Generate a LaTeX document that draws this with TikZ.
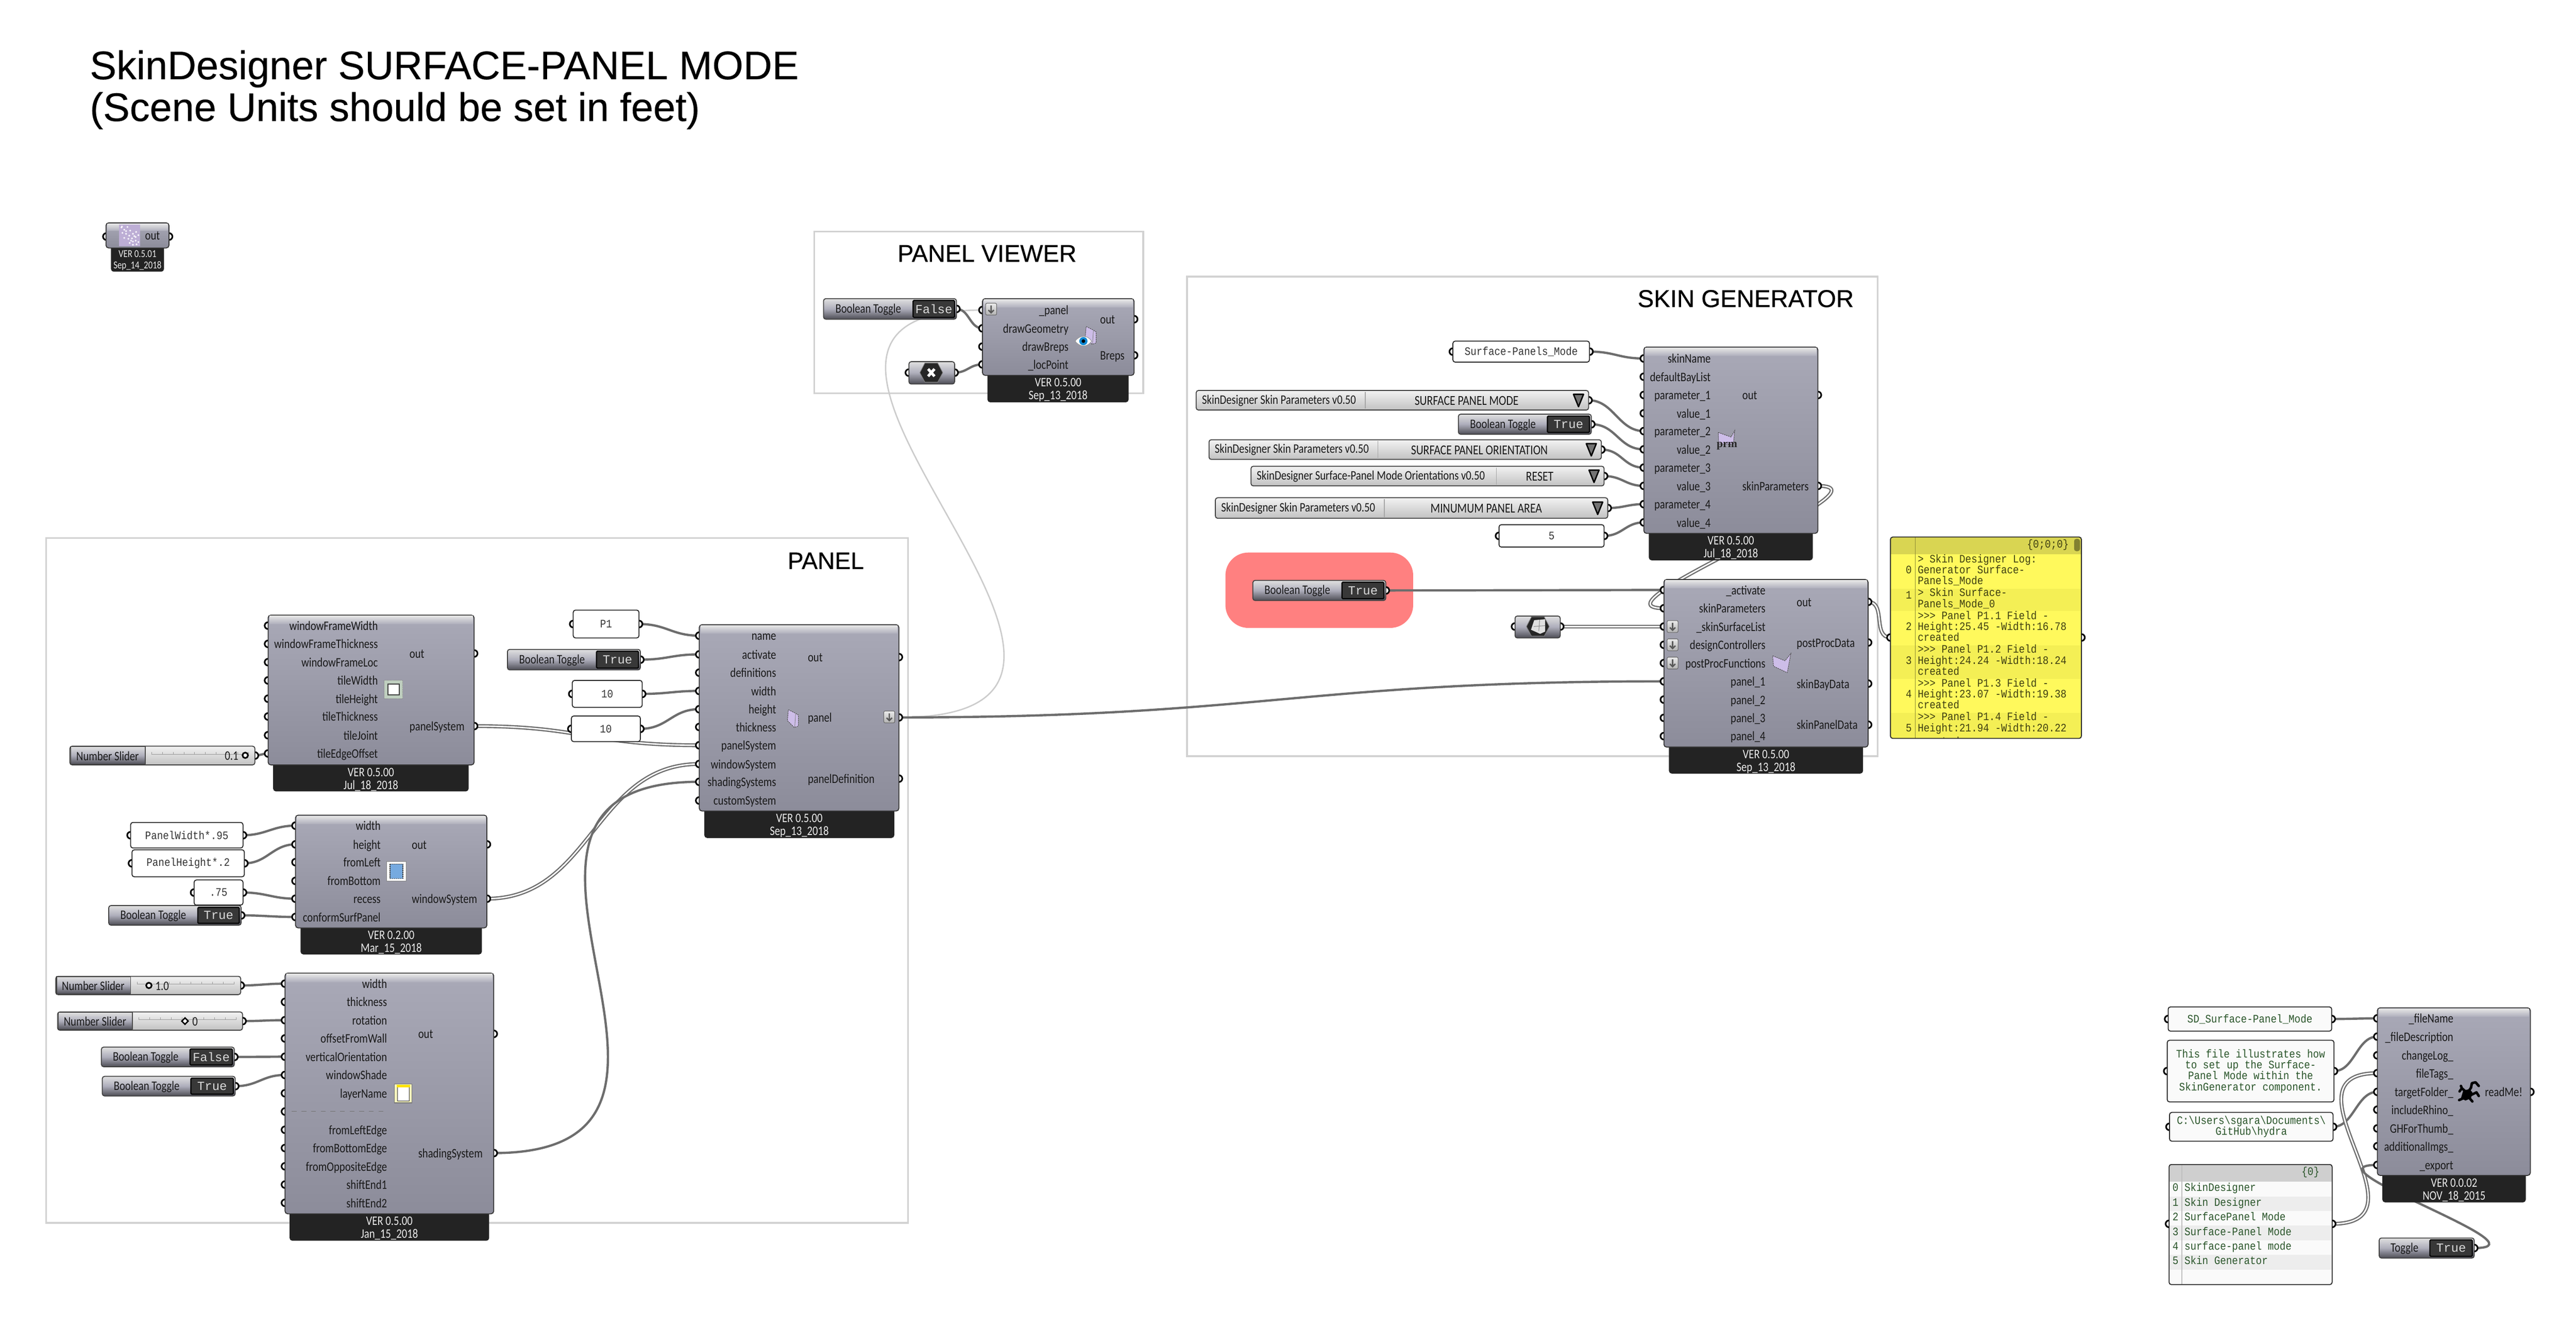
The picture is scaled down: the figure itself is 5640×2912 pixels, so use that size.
\documentclass[tikz,border=0pt]{standalone}
\usepackage{fontspec}
\setmainfont{Carlito}
\newfontfamily\ghlabfam{Carlito}[FakeStretch=0.82]
\newfontfamily\ghmonofam{Liberation Mono}[FakeStretch=0.87]
\newfontfamily\ghvalfam{Liberation Mono}
\newfontfamily\ttlfam{Liberation Sans}[FakeBold=0.3]
\newfontfamily\grpfam{Liberation Sans}[FakeBold=0.6]
\newfontfamily\serfam{Liberation Serif}
\newcommand\flab{\ghlabfam\fontsize{8.1pt}{9pt}\selectfont}
\newcommand\flabv{\ghlabfam\fontsize{8.5pt}{9pt}\selectfont}
\newcommand\fver{\ghlabfam\fontsize{8.1pt}{7.97pt}\selectfont}
\newcommand\fmono{\ghmonofam\fontsize{7.1pt}{6.85pt}\selectfont}
\newcommand\fval{\ghvalfam\fontsize{7.7pt}{8pt}\selectfont}
\definecolor{bodytop}{HTML}{A9A9B7}
\definecolor{bodybot}{HTML}{8C8C9A}
\definecolor{wiregray}{HTML}{6D6D6D}
\definecolor{framegray}{HTML}{D2D2D2}
\definecolor{footdark}{HTML}{232323}
\definecolor{monotext}{HTML}{333333}
\definecolor{greentext}{HTML}{2A552A}
\definecolor{yellowtext}{HTML}{3F3F12}
\definecolor{yellowA}{HTML}{FFF95C}
\definecolor{yellowB}{HTML}{F4EF55}
\definecolor{yellowH}{HTML}{D9D552}
\definecolor{panelpurple}{HTML}{CDBDE8}
\definecolor{groupred}{HTML}{FF8080}
\pgfdeclarelayer{frames}\pgfdeclarelayer{wires}\pgfdeclarelayer{ports}
\pgfsetlayers{frames,wires,ports,main}
\tikzset{
 ghport/.style={circle,draw=black,fill=white,line width=0.035cm,minimum size=0.15cm,inner sep=0pt,outer sep=0pt},
 ghbody/.style={draw=black!80,line width=0.02cm,rounded corners=0.06cm,top color=bodytop,bottom color=bodybot},
 ghfoot/.style={fill=footdark,rounded corners=0.06cm},
 ghver/.style={font=\fver,text=white!92!black,align=center,inner sep=0pt},
 ghlabel/.style={font=\flab,text=black!90,inner sep=0pt},
 smallbody/.style={draw=black!75,line width=0.02cm,rounded corners=0.05cm,top color=white!88!black,bottom color=black!45!bodybot,middle color=bodytop!95!white},
 togval/.style={draw=black,line width=0.025cm,fill=black!78,rounded corners=0.02cm,font=\fval,text=white!85!black},
 txtbody/.style={draw=black!85,line width=0.02cm,fill=white,rounded corners=0.05cm,font=\fmono,text=monotext,align=center},
 txtgreen/.style={draw=black!85,line width=0.02cm,fill=white!98!black,rounded corners=0.05cm,font=\fmono,text=greentext,align=center},
 listbody/.style={draw=black!75,line width=0.02cm,rounded corners=0.05cm,top color=white!95!black,bottom color=white!76!black},
 framebox/.style={draw=framegray,line width=0.04cm,fill=white},
 ttlnode/.style={inner sep=0pt,anchor=base west},
 wirea/.style={draw=wiregray,line width=0.05cm,line cap=round},
 wireb/.style={draw=wiregray,line width=0.027cm,double=white,double distance=0.03cm},
 wirec/.style={draw=white!80!black,line width=0.03cm},
 monoline/.style={font=\fmono,inner sep=0pt,anchor=base west},
 iconedge/.style={draw=black!70,line width=0.012cm,dash pattern=on 0.03cm off 0.015cm},
}
\newcommand\Rnode[7]{%
 \pgfmathsetmacro\rcx{(#3+#5)/2}\pgfmathsetmacro\rcy{(#4+#6)/2}%
 \pgfmathsetmacro\rw{(#5-(#3))*0.01}\pgfmathsetmacro\rh{(#6-(#4))*0.01}%
 \node[inner sep=0pt,outer sep=0pt,minimum width=\rw cm,minimum height=\rh cm,#1] (#2) at (\rcx,\rcy) {#7};}
\newcommand\ghport[3]{\begin{pgfonlayer}{ports}\node[ghport] (#1) at (#2,#3) {};\end{pgfonlayer}}
\newcommand\ghbodybox[9]{%
 \Rnode{ghfoot}{#1-foot}{#6}{#5-12}{#7}{#8}{}%
 \Rnode{ghbody}{#1}{#2}{#3}{#4}{#5}{}%
 \shade[top color=white!90!black,bottom color=bodytop!92!white] ({#2+3},{#3+2}) rectangle ({#4-3},{#3+19});
 \pgfmathsetmacro\fcx{(#6+#7)/2}\pgfmathsetmacro\fcy{#5+32}%
 \node[ghver] (#1-ver) at (\fcx,\fcy) {#9};}
\newcommand\ghin[4]{\foreach \yy/\lab [count=\n] in {#4}{%
  \ghport{#1-i\n}{#2}{\yy}%
  \node[ghlabel,anchor=base east] (#1-il\n) at (#3,\yy+10) {\lab};}}
\newcommand\ghout[4]{\foreach \yy/\lab [count=\n] in {#4}{%
  \ghport{#1-o\n}{#2}{\yy}%
  \node[ghlabel,anchor=base west] (#1-ol\n) at (#3,\yy+10) {\lab};}}
\newcommand\toggle[8]{% name x1 y1 x2 y2 sep label value
 \Rnode{smallbody}{#1}{#2}{#3}{#4}{#5}{}%
 \pgfmathsetmacro\tcy{(#3+#5)/2}\pgfmathsetmacro\tlx{(#2+#6)/2}%
 \ghport{#1-o}{#4}{\tcy}%
 \node[ghlabel] (#1-lab) at (\tlx,\tcy+1) {#7};
 \Rnode{togval}{#1-val}{#6}{#3+4}{#4-4}{#5-4}{#8}}
\newcommand\slider[8]{% name x1 y1 x2 y2 sep value valuecx
 \Rnode{listbody}{#1}{#2}{#3}{#4}{#5}{}%
 \pgfmathsetmacro\tcy{(#3+#5)/2}\pgfmathsetmacro\tlx{(#2+#6)/2}%
 \draw[black!40,line width=0.01cm] ({#6+14},\tcy-3) -- ({#4-14},\tcy-3);
 \foreach \tk in {0,...,9}{\draw[black!40,line width=0.01cm] ({#6+14+\tk*(#4-(#6)-28)/9},\tcy-8) -- ++(0,5);}
 \Rnode{smallbody,sharp corners}{#1-left}{#2+2}{#3+1}{#6}{#5-1}{}%
 \draw[black!70,line width=0.015cm] (#6,#3) -- (#6,#5);
 \ghport{#1-o}{#4}{\tcy}%
 \node[ghlabel] (#1-lab) at (\tlx,\tcy+1) {Number Slider};
 \node[ghlabel] (#1-val) at (#8,\tcy+1) {#7};}
\newcommand\vlist[9]{% name x1 y1 x2 y2 sep left right rightcx
 \Rnode{listbody}{#1}{#2}{#3}{#4}{#5}{}%
 \pgfmathsetmacro\tcy{(#3+#5)/2}%
 \ghport{#1-o}{#4}{\tcy}%
 \draw[black!35,line width=0.015cm] (#6,#3+3) -- (#6,#5-3);
 \node[ghlabel,anchor=base west] (#1-lab) at ({#2+12},\tcy+8) {#7};
 \node[ghlabel,font=\flabv] (#1-val) at (#9,\tcy+1) {#8};
 \filldraw[fill=black!55,draw=black,line width=0.03cm,line join=round] ({#4-33},\tcy-13) -- ({#4-11},\tcy-13) -- ({#4-22},\tcy+14) -- cycle;}
\newcommand\txtbox[7]{% style name x1 y1 x2 y2 text
 \Rnode{#1}{#2}{#3}{#4}{#5}{#6}{#7}%
 \pgfmathsetmacro\tcy{(#4+#6)/2}%
 \ghport{#2-i}{#3}{\tcy}\ghport{#2-o}{#5}{\tcy}}
\newcommand\ghbtn[2]{%
 \filldraw[draw=black!60,line width=0.012cm,top color=white!92!black,bottom color=white!70!black,rounded corners=0.03cm] ({#1-12},{#2-13}) rectangle ({#1+12},{#2+13});
 \draw[black!65,line width=0.03cm] (#1,{#2-8}) -- (#1,{#2+8}) ({#1-6},{#2+2}) -- (#1,{#2+8}) -- ({#1+6},{#2+2});}
\newcommand\wire[3]{\draw[wirea] (#1.center) .. controls +(#3,0) and +(-#3,0) .. (#2.center);}
\newcommand\dwire[3]{\draw[wireb] (#1.center) .. controls +(#3,0) and +(-#3,0) .. (#2.center);}
\newcommand\hexpath[2]{({#1-25},#2) -- ({#1-14},{#2-21}) -- ({#1+14},{#2-21}) -- ({#1+25},#2) -- ({#1+14},{#2+21}) -- ({#1-14},{#2+21}) -- cycle}
\newcommand\bookicon[2]{% top-left corner of a 24x39 book
 \filldraw[fill=panelpurple,iconedge] ({#1+2},#2) -- ({#1+18},{#2+8}) -- ({#1+24},{#2+12}) -- ({#1+24},{#2+36}) -- ({#1+15},{#2+39}) -- (#1,{#2+24}) -- cycle;
 \draw[black!50,line width=0.01cm] ({#1+18},{#2+8}) -- ({#1+16},{#2+38});}
\begin{document}
\begin{tikzpicture}[x=0.01cm,y=-0.01cm]
\useasboundingbox (0,0) rectangle (5640,2912);
% ---------- frames
\begin{pgfonlayer}{frames}
\fill[white] (0,0) rectangle (5640,2912);
\Rnode{framebox}{frPanel}{101}{1178}{1988}{2678}{}
\Rnode{framebox}{frViewer}{1783}{507}{2503}{861}{}
\Rnode{framebox}{frSkin}{2599}{606}{4111}{1656}{}
\Rnode{fill=groupred,rounded corners=0.5cm}{grpRed}{2683}{1210}{3094}{1375}{}
\end{pgfonlayer}
% ---------- titles
\node[ttlnode,font=\ttlfam\fontsize{24.85pt}{26pt}\selectfont] (titleA) at (196,173.5) {SkinDesigner SURFACE-PANEL MODE};
\node[ttlnode,font=\ttlfam\fontsize{24.85pt}{26pt}\selectfont] (titleB) at (196,265) {(Scene Units should be set in feet)};
\node[font=\grpfam\fontsize{14.8pt}{16pt}\selectfont,inner sep=0pt] (tPanel) at (1808,1228) {PANEL};
\node[font=\grpfam\fontsize{15pt}{16pt}\selectfont,inner sep=0pt] (tViewer) at (2161,555) {PANEL VIEWER};
\node[font=\grpfam\fontsize{15.2pt}{16pt}\selectfont,inner sep=0pt] (tSkin) at (3822,654) {SKIN GENERATOR};
% ---------- top-left small component
\ghport{tl-i}{233}{518}\ghport{tl-o}{370}{518}
\Rnode{ghfoot}{tl-foot}{243}{534}{359}{595}{}
\Rnode{ghbody}{tl}{232}{488}{370}{543}{}
\shade[top color=white!90!black,bottom color=bodytop!92!white] (235,490) rectangle (367,505);
\fill[panelpurple!92!black] (261,492) rectangle (307,539);
\foreach \dx/\dy in {266/498,272/503,279/497,285/505,268/510,276/512,283/516,291/512,298/508,272/521,281/523,289/522,297/519,303/515,284/532,291/529,297/527,303/530,291/536,299/535,267/496,276/506,287/527,294/517}{\fill[white!90!panelpurple] (\dx,\dy) circle (2.2);}
\node[ghlabel,anchor=base west] (tl-ol) at (317,525) {out};
\node[font=\ghlabfam\fontsize{6.6pt}{7.1pt}\selectfont,text=white!92!black,align=center,inner sep=0pt] (tl-ver) at (301,570) {VER 0.5.01\\Sep\_14\_2018};
% ---------- component A
\ghbodybox{A}{587}{1347}{1038}{1675}{598}{1026}{1733}{VER 0.5.00\\Jul\_18\_2018}
\ghin{A}{587}{828}{1370/windowFrameWidth,1410/windowFrameThickness,1450/windowFrameLoc,1490/tileWidth,1530/tileHeight,1569/tileThickness,1610/tileJoint,1650/tileEdgeOffset}
\ghout{A}{1038}{896}{1431/out,1590/panelSystem}
\filldraw[fill=green!25!black!25,draw=black!45,line width=0.012cm,dash pattern=on 0.02cm off 0.012cm] (841,1490) rectangle (882,1530);
\filldraw[fill=white,draw=black!75,line width=0.02cm] (849,1498) rectangle (874,1522);
\slider{slA}{153}{1634}{558}{1675}{318}{0.1}{507}
\filldraw[fill=white,draw=black,line width=0.035cm] (537,1654) circle (6);
% ---------- component B
\ghbodybox{B}{647}{1785}{1066}{2032}{658}{1055}{2090}{VER 0.2.00\\Mar\_15\_2018}
\ghin{B}{647}{834}{1808/width,1849/height,1888/fromLeft,1929/fromBottom,1968/recess,2008/conformSurfPanel}
\ghout{B}{1066}{901}{1849/out,1968/windowSystem}
\filldraw[fill=white,draw=black!50,line width=0.012cm] (847,1887) rectangle (889,1929);
\filldraw[fill=cyan!60!blue!55,draw=black!75,line width=0.015cm,dash pattern=on 0.03cm off 0.015cm] (854,1892) rectangle (882,1924);
\txtbox{txtbody}{tWidth}{286}{1801}{532}{1857}{PanelWidth*.95}
\txtbox{txtbody}{tHeight}{289}{1861}{535}{1920}{PanelHeight*.2}
\txtbox{txtbody}{tRecess}{425}{1927}{532}{1982}{.75}
\toggle{tgB}{238}{1983}{528}{2026}{433}{Boolean Toggle}{True}
% ---------- component C
\ghbodybox{C}{624}{2131}{1081}{2658}{634}{1071}{2717}{VER 0.5.00\\Jan\_15\_2018}
\ghin{C}{624}{848}{2154/width,2194/thickness,2234/rotation,2274/offsetFromWall,2314/verticalOrientation,2354/windowShade,2394/layerName,2434/{},2474/fromLeftEdge,2514/fromBottomEdge,2554/fromOppositeEdge,2594/shiftEnd1,2634/shiftEnd2}
\ghout{C}{1081}{915}{2264/out,2525/shadingSystem}
\draw[black!55,line width=0.01cm,dashed] (639,2434) -- (847,2434);
\filldraw[fill=yellow!25,draw=black!55,line width=0.012cm] (863,2374) rectangle (902,2415);
\filldraw[fill=white,draw=black!80,line width=0.015cm] (870,2380) rectangle (896,2411);
\fill[yellow!85!orange] (868,2376) rectangle (898,2381);
\slider{slC}{122}{2138}{527}{2178}{286}{1.0}{355}
\filldraw[fill=white,draw=black,line width=0.035cm] (326,2158) circle (6);
\slider{slD}{126}{2216}{531}{2256}{290}{0}{427}
\filldraw[fill=white,draw=black,line width=0.03cm] (398,2236) -- (405,2229) -- (412,2236) -- (405,2243) -- cycle;
\toggle{tgC}{222}{2293}{513}{2336}{416}{Boolean Toggle}{False}
\toggle{tgE}{224}{2357}{515}{2400}{418}{Boolean Toggle}{True}
% ---------- component D
\ghbodybox{D}{1531}{1368}{1968}{1776}{1542}{1958}{1835}{VER 0.5.00\\Sep\_13\_2018}
\ghin{D}{1531}{1700}{1392/name,1433/activate,1473/definitions,1513/width,1553/height,1592/thickness,1632/panelSystem,1673/windowSystem,1712/shadingSystems,1753/customSystem}
\ghout{D}{1968}{1768}{1439/out,1571/panel,1705/panelDefinition}
\bookicon{1724}{1554}
\ghbtn{1947}{1570}
\txtbox{txtbody}{tP}{1255}{1336}{1399}{1397}{P1}
\toggle{tgD}{1111}{1422}{1402}{1467}{1306}{Boolean Toggle}{True}
\txtbox{txtbody}{tTen}{1253}{1490}{1406}{1549}{10}
\txtbox{txtbody}{tTenB}{1251}{1568}{1402}{1624}{10}
% ---------- component E (panel viewer)
\ghbodybox{E}{2151}{654}{2483}{822}{2162}{2471}{881}{VER 0.5.00\\Sep\_13\_2018}
\ghin{E}{2151}{2340}{679/\_panel,719/drawGeometry,759/drawBreps,798/\_locPoint}
\ghout{E}{2483}{2408}{699/out,778/Breps}
\ghbtn{2170}{677}
\bookicon{2376}{715}
\filldraw[fill=white,draw=black!40,line width=0.012cm] (2354,747) .. controls (2364,733) and (2381,733) .. (2390,747) .. controls (2381,761) and (2364,761) .. cycle;
\fill[cyan!70!blue] (2372,747) circle (9);
\fill[black] (2372,747) circle (4);
\toggle{tgF}{1803}{654}{2094}{699}{1999}{Boolean Toggle}{False}
\Rnode{smallbody}{hexA}{1990}{792}{2090}{841}{}
\ghport{hexA-i}{1990}{816}\ghport{hexA-o}{2090}{816}
\filldraw[fill=black!85,draw=black!50,line width=0.012cm,line join=round] \hexpath{2039}{816};
\draw[white,line width=0.06cm] (2032,808) -- (2046,824) (2046,808) -- (2032,824);
% ---------- component F (parameters)
\ghbodybox{F}{3599}{760}{3980}{1168}{3610}{3969}{1227}{VER 0.5.00\\Jul\_18\_2018}
\ghin{F}{3599}{3746}{785/skinName,825/defaultBayList,865/parameter\_1,905/value\_1,944/parameter\_2,984/value\_2,1024/parameter\_3,1064/value\_3,1104/parameter\_4,1144/value\_4}
\ghout{F}{3980}{3814}{865/out,1064/skinParameters}
\filldraw[fill=panelpurple,iconedge] (3762,947) -- (3790,957) -- (3798,943) -- (3795,973) -- (3763,972) -- cycle;
\node[font=\serfam\bfseries\fontsize{7pt}{7pt}\selectfont,inner sep=0pt,text=black!85] (F-prm) at (3781,976) {prm};
\txtbox{txtbody}{tSkin-name}{3181}{747}{3480}{793}{Surface-Panels\_Mode}
\vlist{vlA}{2619}{855}{3478}{898}{2989}{SkinDesigner Skin Parameters v0.50}{SURFACE PANEL MODE}{3211}
\toggle{tgG}{3193}{907}{3484}{951}{3388}{Boolean Toggle}{True}
\vlist{vlB}{2647}{963}{3506}{1006}{3017}{SkinDesigner Skin Parameters v0.50}{SURFACE PANEL ORIENTATION}{3239}
\vlist{vlC}{2739}{1021}{3512}{1064}{3276}{SkinDesigner Surface-Panel Mode Orientations v0.50}{RESET}{3371}
\vlist{vlD}{2661}{1090}{3520}{1135}{3031}{SkinDesigner Skin Parameters v0.50}{MINUMUM PANEL AREA}{3254}
\txtbox{txtbody}{tFive}{3282}{1149}{3512}{1198}{5}
% ---------- component G (generator)
\ghbodybox{G}{3643}{1269}{4090}{1636}{3654}{4079}{1694}{VER 0.5.00\\Sep\_13\_2018}
\ghin{G}{3643}{3866}{1292/\_activate,1332/skinParameters,1372/\_skinSurfaceList,1412/designControllers,1452/postProcFunctions,1492/panel\_1,1532/panel\_2,1572/panel\_3,1612/panel\_4}
\ghout{G}{4090}{3933}{1318/out,1407/postProcData,1497/skinBayData,1587/skinPanelData}
\ghbtn{3662}{1372}\ghbtn{3662}{1412}\ghbtn{3662}{1452}
\filldraw[fill=panelpurple,iconedge] (3881,1436) -- (3908,1447) -- (3921,1431) -- (3913,1473) -- (3883,1459) -- cycle;
\toggle{tgH}{2743}{1271}{3034}{1315}{2938}{Boolean Toggle}{True}
\Rnode{smallbody}{hexB}{3317}{1349}{3416}{1397}{}
\ghport{hexB-i}{3317}{1372}\ghport{hexB-o}{3416}{1372}
\filldraw[fill=black!85,draw=black!50,line width=0.012cm,line join=round] \hexpath{3367}{1372};
\fill[white!88!black] (3359,1358) -- (3383,1356) -- (3383,1383) -- (3372,1388) -- (3352,1379) -- cycle;
\draw[black!45,line width=0.012cm] (3371,1357) -- (3369,1382) (3358,1372) -- (3383,1370);
% ---------- yellow log panel
\ghport{log-i}{4139}{1396}\ghport{log-o}{4557}{1396}
\Rnode{fill=yellowA,rounded corners=0.05cm}{log}{4139}{1176}{4557}{1617}{}
\begin{scope}
\clip[rounded corners=0.05cm] (4139,1176) rectangle (4557,1617);
\fill[yellowH] (4139,1176) rectangle (4557,1214);
\fill[yellowB] (4139,1289) rectangle (4557,1338);
\fill[yellowB] (4139,1413) rectangle (4557,1487);
\fill[yellowB] (4139,1561) rectangle (4557,1617);
\draw[black!35!yellowH,line width=0.012cm] (4193,1176) -- (4193,1617);
\foreach \yy/\tx in {1232/{> Skin Designer Log:},1256/{Generator Surface-},1280/{Panels\_Mode},1306/{> Skin Surface-},1330/{Panels\_Mode\_0},1356/{>>> Panel P1.1 Field -},1380/{Height:25.45 -Width:16.78},1404/{created},1430/{>>> Panel P1.2 Field -},1454/{Height:24.24 -Width:18.24},1478/{created},1504/{>>> Panel P1.3 Field -},1528/{Height:23.07 -Width:19.38},1552/{created},1578/{>>> Panel P1.4 Field -},1602/{Height:21.94 -Width:20.22},1632/{created}}{\node[monoline,text=yellowtext] at (4198,\yy) {\tx};}
\foreach \yy/\tx in {1256/0,1311/1,1380/2,1454/3,1528/4,1602/5}{\node[monoline,anchor=base,text=yellowtext] at (4179,\yy) {\tx};}
\node[monoline,anchor=base east,text=yellowtext] at (4530,1200) {\{0;0;0\}};
\fill[yellowH!60!black,rounded corners=0.05cm] (4541,1180) rectangle (4554,1207);
\end{scope}
\draw[black!85,line width=0.02cm,rounded corners=0.05cm] (4139,1176) rectangle (4557,1617);
% ---------- component H (readMe)
\ghbodybox{H}{5205}{2207}{5540}{2574}{5216}{5530}{2633}{VER 0.0.02\\NOV\_18\_2015}
\ghin{H}{5205}{5372}{2230/\_fileName,2270/\_fileDescription,2311/changeLog\_,2350/fileTags\_,2391/targetFolder\_,2430/includeRhino\_,2471/GHForThumb\_,2510/additionalImgs\_,2551/\_export}
\ghout{H}{5540}{5440}{2391/readMe!}
\fill[black] (5393,2388) -- (5407,2385) -- (5413,2392) -- (5410,2405) -- (5398,2410) -- (5388,2405) -- cycle;
\draw[black,line width=0.055cm,line cap=round,line join=round] (5403,2392) -- (5410,2382) -- (5412,2372) -- (5420,2370) -- (5427,2378)
  (5398,2390) -- (5390,2383) -- (5385,2390) (5390,2383) -- (5388,2378)
  (5410,2398) -- (5422,2392) -- (5427,2400)
  (5393,2405) -- (5384,2409) (5407,2405) -- (5413,2412);
\txtbox{txtgreen}{tFile}{4747}{2205}{5105}{2258}{SD\_Surface-Panel\_Mode}
\txtbox{txtgreen}{tDesc}{4745}{2278}{5110}{2413}{This file illustrates how\\to set up the Surface-\\Panel Mode within the\\SkinGenerator component.}
\txtbox{txtgreen}{tPath}{4750}{2436}{5108}{2499}{C:\textbackslash Users\textbackslash sgara\textbackslash Documents\textbackslash\\GitHub\textbackslash hydra}
\ghport{lst-i}{4749}{2680}\ghport{lst-o}{5106}{2680}
\Rnode{fill=white!98!black,rounded corners=0.05cm}{lst}{4749}{2550}{5106}{2813}{}
\begin{scope}
\clip[rounded corners=0.05cm] (4749,2550) rectangle (5106,2813);
\fill[white!81!black] (4749,2550) rectangle (5106,2588);
\foreach \yy in {2620,2684,2748}{\fill[white!93!black] (4749,\yy) rectangle (5106,\yy+32);}
\draw[white!75!black,line width=0.02cm] (4777,2550) -- (4777,2813);
\foreach \yy/\nn/\tx in {2609/0/{SkinDesigner},2641/1/{Skin Designer},2673/2/{SurfacePanel Mode},2705/3/{Surface-Panel Mode},2737/4/{surface-panel mode},2769/5/{Skin Generator}}{\node[monoline,text=greentext] at (4782,\yy) {\tx};\node[monoline,anchor=base,text=greentext] at (4763,\yy) {\nn};}
\node[monoline,anchor=base east,text=greentext] at (5079,2573) {\{0\}};
\end{scope}
\draw[black!85,line width=0.02cm,rounded corners=0.05cm] (4749,2550) rectangle (5106,2813);
\toggle{tgI}{5209}{2711}{5417}{2755}{5320}{Toggle}{True}
% ---------- wires
\begin{pgfonlayer}{wires}
\wire{slA-o}{A-i8}{10}
\dwire{A-o2}{D-i7}{240}
\dwire{B-o2}{D-i8}{230}
\wire{C-o2}{D-i9}{600}
\wire{tWidth-o}{B-i1}{50}
\wire{tHeight-o}{B-i2}{50}
\wire{tRecess-o}{B-i5}{50}
\wire{tgB-o}{B-i6}{50}
\wire{slC-o}{C-i1}{40}
\wire{slD-o}{C-i3}{40}
\wire{tgC-o}{C-i5}{40}
\wire{tgE-o}{C-i6}{50}
\wire{tP-o}{D-i1}{60}
\wire{tgD-o}{D-i2}{60}
\wire{tTen-o}{D-i4}{55}
\wire{tTenB-o}{D-i5}{60}
\draw[wirec] (D-o2.center) .. controls +(700,0) and +(-667,0) .. (E-i1.center);
\wire{D-o2}{G-i6}{800}
\wire{tgF-o}{E-i2}{28}
\wire{hexA-o}{E-i4}{28}
\wire{tSkin-name-o}{F-i1}{55}
\wire{vlA-o}{F-i5}{55}
\wire{tgG-o}{F-i6}{55}
\wire{vlB-o}{F-i7}{45}
\wire{vlC-o}{F-i8}{40}
\wire{vlD-o}{F-i9}{35}
\wire{tFive-o}{F-i10}{40}
\dwire{F-o2}{G-i2}{180}
\wire{tgH-o}{G-i1}{100}
\dwire{hexB-o}{G-i3}{100}
\dwire{G-o1}{log-i}{40}
\wire{tFile-o}{H-i1}{30}
\wire{tDesc-o}{H-i2}{45}
\wire{tPath-o}{H-i5}{45}
\dwire{lst-o}{H-i4}{225}
\wire{tgI-o}{H-i9}{170}
\end{pgfonlayer}
\end{tikzpicture}
\end{document}
